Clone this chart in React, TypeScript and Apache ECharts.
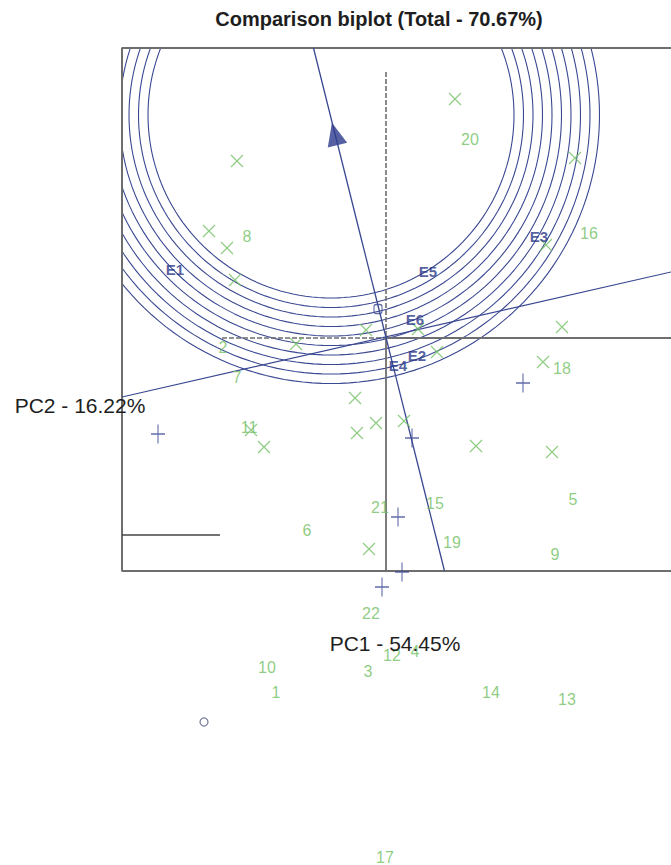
import React, { useEffect, useRef } from "react";
import * as echarts from "echarts";

// ---- texts ----
const TITLE = "Comparison biplot (Total - 70.67%)";
const PC1_LABEL = "PC1 - 54.45%";
const PC2_LABEL = "PC2 - 16.22%";

// ---- genotype markers (x symbols), biplot coordinates ----
const genotypeMarkers: [number, number][] = [
  [0.69, 2.39], [-1.49, 1.77], [1.89, 1.8], [-1.77, 1.07], [-1.59, 0.9],
  [-1.51, 0.58], [1.6, 0.93], [1.76, 0.11], [-0.2, 0.08], [-0.9, -0.06],
  [0.32, 0.09], [0.51, -0.14], [1.57, -0.24], [-0.31, -0.6], [-0.29, -0.95],
  [-0.1, -0.85], [0.18, -0.83], [0.9, -1.08], [1.66, -1.14], [-1.22, -1.09],
  [-1.35, -0.92], [-0.17, -2.11],
];

// ---- genotype labels [name, x, y] ----
const genotypeLabels: [string, number, number][] = [
  ["20", 0.84, 1.99], ["8", -1.39, 1.02], ["16", 2.03, 1.05], ["18", 1.76, -0.3],
  ["7", -1.49, -0.39], ["2", -1.63, -0.09], ["11", -1.37, -0.89], ["21", -0.06, -1.69],
  ["15", 0.49, -1.65], ["5", 1.87, -1.61], ["6", -0.79, -1.92], ["19", 0.66, -2.04],
  ["9", 1.69, -2.16], ["22", -0.15, -2.75], ["12", 0.06, -3.17], ["4", 0.29, -3.13],
  ["10", -1.19, -3.29], ["3", -0.18, -3.33], ["1", -1.1, -3.54], ["14", 1.05, -3.54],
  ["13", 1.81, -3.61], ["17", -0.01, -5.19],
];

// ---- environment labels [name, x, y] ----
const environmentLabels: [string, number, number][] = [
  ["E1", -2.11, 0.69], ["E5", 0.42, 0.67], ["E3", 1.53, 1.02],
  ["E6", 0.29, 0.19], ["E2", 0.31, -0.17], ["E4", 0.12, -0.27],
];

// ---- blue plus markers ----
const plusMarkers: [number, number][] = [
  [-2.28, -0.96], [1.37, -0.45], [0.26, -1.0], [0.12, -1.79], [0.16, -2.34], [-0.04, -2.49],
];

// ---- other single markers ----
const averageEnvMarker: [number, number] = [-0.08, 0.29];
const lonePointMarker: [number, number] = [-1.82, -3.84];
const arrowHead: [number, number] = [-0.513, 2.04];

// ---- concentric circles around ideal point ----
const idealCenter: [number, number] = [-0.55, 2.23];
const circleRadii = [1.83, 1.925, 2.02, 2.115, 2.21, 2.305, 2.4, 2.495, 2.59, 2.685];

// ---- frame and lines ----
const plotFrame: [number, number][] = [[2.85, 2.9], [-2.64, 2.9], [-2.64, -2.33], [2.85, -2.33]];
const aeaLine: [number, number][] = [[-0.725, 2.9], [0.585, -2.33]];
const pc2Line: [number, number][] = [[-2.64, -0.59], [2.85, 0.66]];
const vertDashed: [number, number][] = [[0, 2.66], [0, 0]];
const vertSolid: [number, number][] = [[0, 0], [0, -2.33]];
const horizDashed: [number, number][] = [[-1.64, 0], [0, 0]];
const horizSolid: [number, number][] = [[0, 0], [2.85, 0]];
const shortLine: [number, number][] = [[-2.64, -1.97], [-1.66, -1.97]];

const NAVY = "#3a4892";
const GREEN = "#72bf63";
const GREY = "#6e6e6e";
const FONT = "'Liberation Sans', Arial, sans-serif";

function circlePoints(c: [number, number], r: number): [number, number][] {
  const pts: [number, number][] = [];
  for (let a = 0; a <= 360; a += 2) {
    const t = (a * Math.PI) / 180;
    pts.push([c[0] + r * Math.cos(t), c[1] + r * Math.sin(t)]);
  }
  return pts;
}

export default function App() {
  const ref = useRef<HTMLDivElement>(null);
  useEffect(() => {
    if (!ref.current) return;
    const chart = echarts.init(ref.current, undefined, { renderer: "svg" });

    const lineSeries = (data: [number, number][], style: any, clip = true) => ({
      type: "line",
      xAxisIndex: 0,
      yAxisIndex: 0,
      data,
      symbol: "none",
      showSymbol: false,
      silent: true,
      clip,
      lineStyle: style,
      z: 3,
    });

    const series: any[] = [];
    circleRadii.forEach((r) =>
      series.push(lineSeries(circlePoints(idealCenter, r), { color: NAVY, width: 1.1 }))
    );
    series.push(lineSeries(plotFrame, { color: GREY, width: 2 }, false));
    series.push(lineSeries(vertDashed, { color: GREY, width: 1.6, type: [5, 2] }));
    series.push(lineSeries(vertSolid, { color: GREY, width: 1.8 }));
    series.push(lineSeries(horizDashed, { color: GREY, width: 1.6, type: [5, 2] }));
    series.push(lineSeries(horizSolid, { color: GREY, width: 1.8 }));
    series.push(lineSeries(shortLine, { color: "#444", width: 1.3 }));
    series.push(lineSeries(pc2Line, { color: NAVY, width: 1.2 }));
    series.push(lineSeries(aeaLine, { color: NAVY, width: 1.3 }));

    series.push({
      type: "scatter",
      xAxisIndex: 1,
      yAxisIndex: 1,
      silent: true,
      symbol: "path://M0,0L12,12M12,0L0,12",
      symbolSize: 12,
      itemStyle: { color: "none", borderColor: GREEN, borderWidth: 1.2 },
      data: genotypeMarkers,
      z: 5,
    });
    series.push({
      type: "scatter",
      xAxisIndex: 1,
      yAxisIndex: 1,
      silent: true,
      symbol: "path://M7,0L7,19M0,9.5L14,9.5",
      symbolSize: [14, 19],
      itemStyle: { color: "none", borderColor: NAVY, borderWidth: 1.3 },
      data: plusMarkers,
      z: 5,
    });
    series.push({
      type: "scatter",
      xAxisIndex: 1,
      yAxisIndex: 1,
      silent: true,
      symbol: "circle",
      symbolSize: 8,
      itemStyle: { color: "#fff", borderColor: "#5a5f85", borderWidth: 1.3 },
      data: [lonePointMarker],
      z: 5,
    });
    series.push({
      type: "scatter",
      xAxisIndex: 1,
      yAxisIndex: 1,
      silent: true,
      symbol: "roundRect",
      symbolSize: [8, 9],
      itemStyle: { color: "rgba(255,255,255,0)", borderColor: NAVY, borderWidth: 1.2 },
      data: [averageEnvMarker],
      z: 6,
    });
    series.push({
      type: "scatter",
      xAxisIndex: 1,
      yAxisIndex: 1,
      silent: true,
      symbol: "triangle",
      symbolSize: [20, 23],
      symbolRotate: 14,
      itemStyle: { color: "#2c3a8c" },
      data: [arrowHead],
      z: 6,
    });
    series.push({
      type: "scatter",
      xAxisIndex: 1,
      yAxisIndex: 1,
      silent: true,
      symbolSize: 1,
      itemStyle: { color: "rgba(0,0,0,0)" },
      label: {
        show: true,
        position: "inside",
        formatter: "{b}",
        color: GREEN,
        fontSize: 16,
        fontFamily: FONT,
      },
      data: genotypeLabels.map(([n, x, y]) => ({ name: n, value: [x, y] })),
      z: 7,
    });
    series.push({
      type: "scatter",
      xAxisIndex: 1,
      yAxisIndex: 1,
      silent: true,
      symbolSize: 1,
      itemStyle: { color: "rgba(0,0,0,0)" },
      label: {
        show: true,
        position: "inside",
        formatter: "{b}",
        color: "#2a3888",
        fontSize: 15,
        fontWeight: "bold",
        fontFamily: FONT,
      },
      data: environmentLabels.map(([n, x, y]) => ({ name: n, value: [x, y] })),
      z: 7,
    });

    chart.setOption({
      animation: false,
      backgroundColor: "#ffffff",
      grid: [
        { left: 122, top: 48, width: 549, height: 523, show: false },
        { left: 0, top: 0, width: 671, height: 865, show: false },
      ],
      xAxis: [
        { type: "value", gridIndex: 0, min: -2.64, max: 2.85, show: false },
        { type: "value", gridIndex: 1, min: -3.86, max: 2.85, show: false },
      ],
      yAxis: [
        { type: "value", gridIndex: 0, min: -2.33, max: 2.9, show: false },
        { type: "value", gridIndex: 1, min: -5.27, max: 3.38, show: false },
      ],
      graphic: [
        {
          type: "text",
          x: 379,
          y: 19,
          style: { text: TITLE, fill: "#1e1e1e", font: `bold 20px ${FONT}`, align: "center", verticalAlign: "middle" },
          z: 10,
        },
        {
          type: "text",
          x: 80,
          y: 405,
          style: { text: PC2_LABEL, fill: "#1e1e1e", font: `21px ${FONT}`, align: "center", verticalAlign: "middle" },
          z: 10,
        },
        {
          type: "text",
          x: 395,
          y: 643,
          style: { text: PC1_LABEL, fill: "#1e1e1e", font: `21px ${FONT}`, align: "center", verticalAlign: "middle" },
          z: 10,
        },
      ],
      series,
    });
    return () => chart.dispose();
  }, []);
  return (
    <div
      ref={ref}
      style={{ position: "absolute", left: 0, top: 0, width: 671, height: 865 }}
    />
  );
}
